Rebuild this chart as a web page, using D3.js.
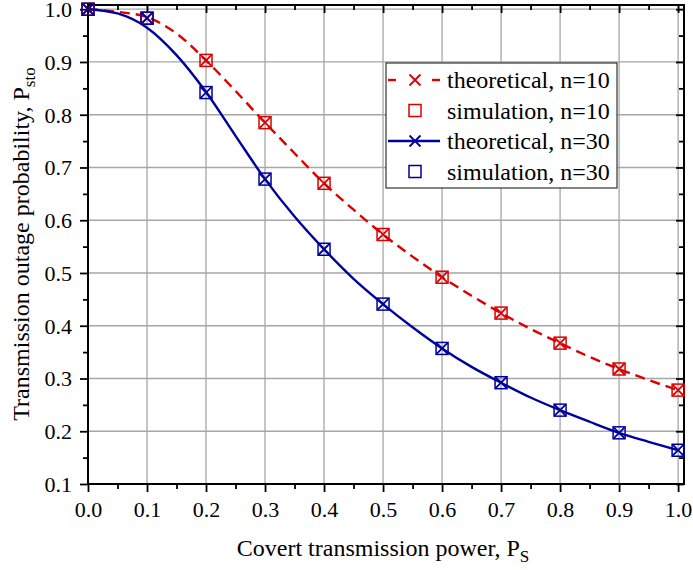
<!DOCTYPE html>
<html lang="en"><head><meta http-equiv="Content-Type" content="text/html; charset=UTF-8">
<script src="https://d3js.org/d3.v7.min.js"></script>
<style>
    body {margin: 0; background: #fff;}
    svg text {font-family: "Liberation Serif", "Times New Roman", serif !important; fill: #000;}
</style>
</head>
<body>
<div id="outage_chart"></div>

<script>
//here comes the data
var xSim = [0.0, 0.1, 0.2, 0.3, 0.4, 0.5, 0.6, 0.7, 0.8, 0.9, 1.0];
var simN10 = [1.000, 0.983, 0.903, 0.785, 0.670, 0.573, 0.492, 0.424, 0.367, 0.318, 0.278];
var simN30 = [1.000, 0.983, 0.842, 0.678, 0.545, 0.441, 0.357, 0.292, 0.240, 0.197, 0.164];

var xTheo = [0.0, 0.05, 0.1, 0.15, 0.2, 0.25, 0.3, 0.35, 0.4, 0.45, 0.5,
             0.55, 0.6, 0.65, 0.7, 0.75, 0.8, 0.85, 0.9, 0.95, 1.0];
var theoN10 = [1.000, 0.995, 0.985, 0.954, 0.903, 0.845, 0.785, 0.727, 0.670, 0.620, 0.573,
               0.531, 0.492, 0.457, 0.424, 0.394, 0.367, 0.341, 0.318, 0.297, 0.278];
var theoN30 = [1.000, 0.992, 0.965, 0.913, 0.843, 0.760, 0.678, 0.607, 0.545, 0.489, 0.441,
               0.397, 0.357, 0.322, 0.292, 0.264, 0.240, 0.218, 0.197, 0.180, 0.164];

var xTicks = [0.0, 0.1, 0.2, 0.3, 0.4, 0.5, 0.6, 0.7, 0.8, 0.9, 1.0];
var yTicks = [0.1, 0.2, 0.3, 0.4, 0.5, 0.6, 0.7, 0.8, 0.9, 1.0];
var xMinor = [0.05, 0.15, 0.25, 0.35, 0.45, 0.55, 0.65, 0.75, 0.85, 0.95];
var yMinor = [0.15, 0.25, 0.35, 0.45, 0.55, 0.65, 0.75, 0.85, 0.95];

var legendLabels = ["theoretical, n=10", "simulation, n=10", "theoretical, n=30", "simulation, n=30"];
//end of data

var RED = "#dc0000", BLUE = "#00009c";
var SERIF = "'Liberation Serif', 'Times New Roman', serif";

function drawChart() {
    var W = 693, H = 570;
    var left = 88, right = 684, top = 5, bottom = 484;

    var svg = d3.select("#outage_chart").append("svg")
        .attr("width", W).attr("height", H)
        .attr("font-family", SERIF);

    var x = d3.scaleLinear().domain([0, 1.01]).range([left, right]);
    var y = d3.scaleLinear().domain([0.1, 1.008]).range([bottom, top]);

    // grid
    svg.append("g").selectAll("line").data(xTicks.slice(1)).enter().append("line")
        .attr("x1", function(d) { return x(d); }).attr("x2", function(d) { return x(d); })
        .attr("y1", top).attr("y2", bottom)
        .attr("stroke", "#a6a6a6").attr("stroke-width", 1.3);
    svg.append("g").selectAll("line").data(yTicks.slice(1)).enter().append("line")
        .attr("y1", function(d) { return y(d); }).attr("y2", function(d) { return y(d); })
        .attr("x1", left).attr("x2", right)
        .attr("stroke", "#a6a6a6").attr("stroke-width", 1.3);

    // axes
    var fmt = d3.format(".1f");
    function styleAxis(g) {
        g.attr("font-family", SERIF);
        g.select(".domain").remove();
        g.selectAll(".tick line").attr("stroke", "#000").attr("stroke-width", 1.8);
        g.selectAll(".tick text").style("font-size", "22px").attr("fill", "#000");
    }

    var gx = svg.append("g").attr("transform", "translate(0," + bottom + ")")
        .call(d3.axisBottom(x).tickValues(xTicks).tickFormat(fmt).tickSize(8).tickPadding(9));
    styleAxis(gx);
    var gxm = svg.append("g").attr("transform", "translate(0," + bottom + ")")
        .call(d3.axisBottom(x).tickValues(xMinor).tickFormat("").tickSize(5));
    styleAxis(gxm);

    var gy = svg.append("g").attr("transform", "translate(" + left + ",0)")
        .call(d3.axisLeft(y).tickValues(yTicks).tickFormat(fmt).tickSize(8).tickPadding(8));
    styleAxis(gy);
    gy.selectAll(".tick text").attr("dy", "0.34em");
    var gym = svg.append("g").attr("transform", "translate(" + left + ",0)")
        .call(d3.axisLeft(y).tickValues(yMinor).tickFormat("").tickSize(5));
    styleAxis(gym);

    var gt = svg.append("g").attr("transform", "translate(0," + top + ")")
        .call(d3.axisTop(x).tickValues(xTicks).tickFormat("").tickSize(-8));
    styleAxis(gt);
    var gtm = svg.append("g").attr("transform", "translate(0," + top + ")")
        .call(d3.axisTop(x).tickValues(xMinor).tickFormat("").tickSize(-5));
    styleAxis(gtm);

    var gr = svg.append("g").attr("transform", "translate(" + right + ",0)")
        .call(d3.axisRight(y).tickValues(yTicks).tickFormat("").tickSize(-8));
    styleAxis(gr);
    var grm = svg.append("g").attr("transform", "translate(" + right + ",0)")
        .call(d3.axisRight(y).tickValues(yMinor).tickFormat("").tickSize(-5));
    styleAxis(grm);

    svg.append("rect")
        .attr("x", left).attr("y", top)
        .attr("width", right - left).attr("height", bottom - top)
        .attr("fill", "none").attr("stroke", "#000").attr("stroke-width", 2);

    // axis titles
    var xt = svg.append("text")
        .attr("x", (left + right) / 2 - 3).attr("y", 556)
        .attr("text-anchor", "middle").style("font-size", "24px")
        .text("Covert transmission power, P");
    xt.append("tspan").attr("dy", 6).style("font-size", "17px").text("S");

    var yt = svg.append("text")
        .attr("transform", "translate(29,244) rotate(-90)")
        .attr("text-anchor", "middle").style("font-size", "24px")
        .text("Transmission outage probability, P");
    yt.append("tspan").attr("dy", 6).style("font-size", "17px").text("sto");

    // curves
    var line = d3.line()
        .x(function(d) { return x(d[0]); })
        .y(function(d) { return y(d[1]); })
        .curve(d3.curveMonotoneX);

    var t10 = xTheo.map(function(v, i) { return [v, theoN10[i]]; });
    var t30 = xTheo.map(function(v, i) { return [v, theoN30[i]]; });
    svg.append("path").datum(t10).attr("d", line)
        .attr("fill", "none").attr("stroke", RED).attr("stroke-width", 2.4)
        .attr("stroke-dasharray", "10,6");
    svg.append("path").datum(t30).attr("d", line)
        .attr("fill", "none").attr("stroke", BLUE).attr("stroke-width", 2.4);

    function drawCross(g, cx, cy, col) {
        var s = 5.5;
        g.append("path")
            .attr("d", "M" + (cx - s) + "," + (cy - s) + "L" + (cx + s) + "," + (cy + s) +
                       "M" + (cx - s) + "," + (cy + s) + "L" + (cx + s) + "," + (cy - s))
            .attr("stroke", col).attr("stroke-width", 1.8).attr("fill", "none");
    }
    function drawSquare(g, cx, cy, col) {
        g.append("rect").attr("x", cx - 6).attr("y", cy - 6)
            .attr("width", 12).attr("height", 12)
            .attr("fill", "none").attr("stroke", col).attr("stroke-width", 1.5);
    }

    var marks = svg.append("g");
    xSim.forEach(function(v, i) {
        drawSquare(marks, x(v), y(simN10[i]), RED);
        drawCross(marks, x(v), y(simN10[i]), RED);
    });
    xSim.forEach(function(v, i) {
        drawSquare(marks, x(v), y(simN30[i]), BLUE);
        drawCross(marks, x(v), y(simN30[i]), BLUE);
    });

    // legend
    var lg = svg.append("g").attr("font-family", SERIF);
    lg.append("rect").attr("x", 386).attr("y", 63).attr("width", 231).attr("height", 125)
        .attr("fill", "#fff").attr("stroke", "#333").attr("stroke-width", 1.2);
    var rowY = [80, 110.5, 141, 171.5];
    var mx = 415;
    [[388, 396], [432, 440]].forEach(function(s) {
        lg.append("line").attr("x1", s[0]).attr("x2", s[1]).attr("y1", rowY[0]).attr("y2", rowY[0])
            .attr("stroke", RED).attr("stroke-width", 2.4);
    });
    drawCross(lg, mx, rowY[0], RED);
    drawSquare(lg, mx, rowY[1], RED);
    lg.append("line").attr("x1", 388).attr("x2", 440).attr("y1", rowY[2]).attr("y2", rowY[2])
        .attr("stroke", BLUE).attr("stroke-width", 2.4);
    drawCross(lg, mx, rowY[2], BLUE);
    drawSquare(lg, mx, rowY[3], BLUE);
    legendLabels.forEach(function(t, i) {
        lg.append("text").attr("x", 447).attr("y", rowY[i] + 8)
            .attr("font-family", SERIF)
            .style("font-size", "24px").text(t);
    });
}

window.onload = drawChart;
</script>
</body>
</html>
